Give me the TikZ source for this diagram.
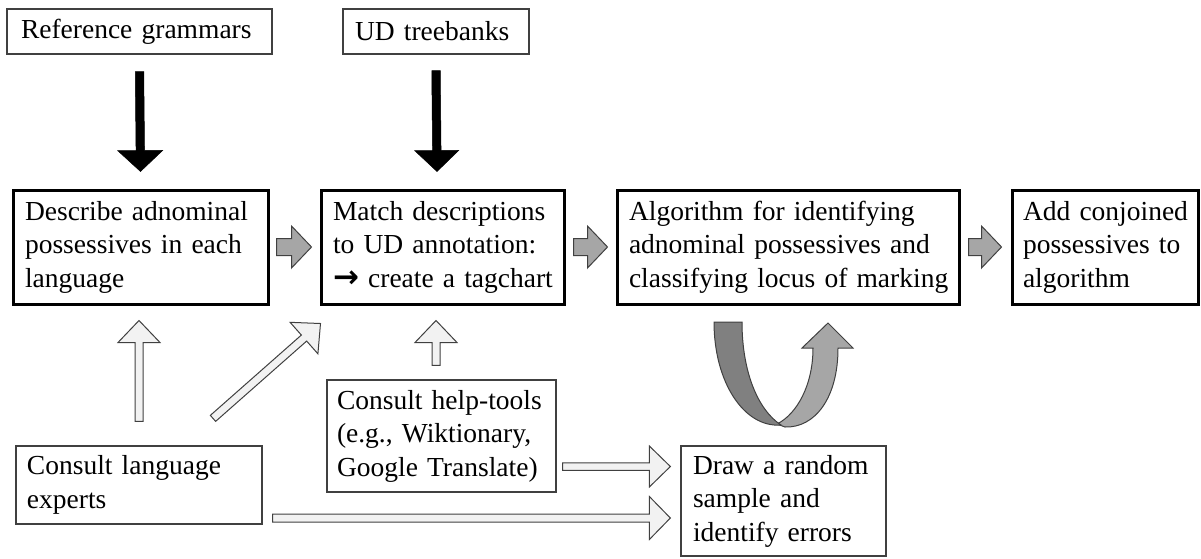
\documentclass[tikz,border=0pt]{standalone}
\usepackage{fontspec}
\setmainfont{Liberation Serif}
\newfontfamily\arrowfont{DejaVu Sans}
\usetikzlibrary{calc}

\definecolor{arrowgray}{HTML}{A6A6A6}
\definecolor{bandgray}{HTML}{808080}
\definecolor{palegray}{HTML}{F2F2F2}
\definecolor{edgegray}{HTML}{404040}

% block arrow: style, from, to, half shaft, half head, head length
\newcommand{\fatarrow}[6]{%
  \coordinate (fa-s) at (#2);
  \coordinate (fa-e) at (#3);
  \coordinate (fa-b) at ($(fa-e)!#6!(fa-s)$);
  \draw[#1] ($(fa-s)!#4!90:(fa-e)$) -- ($(fa-b)!#4!90:(fa-e)$) -- ($(fa-b)!#5!90:(fa-e)$)
    -- (fa-e) -- ($(fa-b)!#5!-90:(fa-e)$) -- ($(fa-b)!#4!-90:(fa-e)$) -- ($(fa-s)!#4!-90:(fa-e)$) -- cycle;}

\begin{document}
\begin{tikzpicture}[x=1pt, y=-1pt, font=\fontsize{27.5}{33.5}\selectfont,
    thinbox/.style={draw=edgegray, line width=1.3pt, align=left, inner ysep=0pt},
    thickbox/.style={draw=black, line width=3pt, align=left, inner ysep=0pt},
    blackarrow/.style={fill=black, draw=black, line width=0.5pt},
    grayarrow/.style={fill=arrowgray, draw=edgegray, line width=1pt},
    palearrow/.style={fill=palegray, draw=edgegray, line width=1pt}]
    \useasboundingbox (0,0) rectangle (1201,558);

    % sources
    \node[thinbox, text width=237pt, inner xsep=14pt, minimum height=45pt] (ref) at (139.5,31.5) {\mbox{Reference grammars}};
    \node[thinbox, text width=162pt, inner xsep=12pt, minimum height=45pt] (ud) at (436,31.5) {\mbox{UD treebanks}};

    % main steps
    \node[thickbox, text width=231pt, inner xsep=12pt, minimum height=114pt] (desc) at (140.5,247)
        {\mbox{Describe adnominal}\\\mbox{possessives in each}\\\mbox{language}};
    \node[thickbox, text width=219pt, inner xsep=12pt, minimum height=114pt] (match) at (442.5,247)
        {\mbox{Match descriptions}\\\mbox{to UD annotation:}\\\mbox{{\arrowfont\bfseries\fontsize{31}{33.5}\selectfont →}\ create a tagchart}};
    \node[thickbox, text width=318pt, inner xsep=12pt, minimum height=114pt] (algo) at (788,247)
        {\mbox{Algorithm for identifying}\\\mbox{adnominal possessives and}\\\mbox{classifying locus of marking}};
    \node[thickbox, text width=164pt, inner xsep=11pt, minimum height=114pt] (add) at (1105,247)
        {\mbox{Add conjoined}\\\mbox{possessives to}\\\mbox{algorithm}};

    % helpers
    \node[thinbox, text width=224pt, inner xsep=11pt, minimum height=78pt] (lang) at (139,485)
        {\mbox{Consult language}\\\mbox{experts}};
    \node[thinbox, text width=209pt, inner xsep=10pt, minimum height=112pt] (help) at (441.5,436)
        {\mbox{Consult help-tools}\\\mbox{(e.g., Wiktionary,}\\\mbox{Google Translate)}};
    \node[thinbox, text width=181pt, inner xsep=12pt, minimum height=110pt] (draw) at (783.5,501)
        {\mbox{Draw a random}\\\mbox{sample and}\\\mbox{identify errors}};

    \fatarrow{blackarrow}{[yshift=-17pt]ref.south}{[yshift=17pt]desc.north}{4.25pt}{22.5pt}{21pt}
    \fatarrow{blackarrow}{[yshift=-16pt]ud.south}{[xshift=-5.5pt,yshift=17pt]match.north}{4.25pt}{22pt}{21pt}

    \fatarrow{grayarrow}{[xshift=7pt]desc.east}{[xshift=-8pt]match.west}{8.5pt}{21pt}{20pt}
    \fatarrow{grayarrow}{[xshift=8pt]match.east}{[xshift=-8pt]algo.west}{8.5pt}{21pt}{20pt}
    \fatarrow{grayarrow}{[xshift=8pt]algo.east}{[xshift=-9pt]add.west}{8.5pt}{21pt}{20pt}

    \fatarrow{palearrow}{[yshift=24pt]lang.north}{[xshift=-1.5pt,yshift=-15pt]desc.south}{4pt}{21pt}{22pt}
    \fatarrow{palearrow}{[xshift=74pt,yshift=27pt]lang.north}{[xshift=1pt,yshift=-18pt]match.south west}{4pt}{21pt}{22pt}
    \fatarrow{palearrow}{[xshift=-5.5pt,yshift=14pt]help.north}{[xshift=-6.5pt,yshift=-15pt]match.south}{4pt}{21pt}{22pt}
    \fatarrow{palearrow}{[xshift=6pt,yshift=-30.5pt]help.east}{[xshift=-10pt,yshift=34.5pt]draw.west}{3.75pt}{20.5pt}{21pt}
    \fatarrow{palearrow}{[xshift=10pt,yshift=-33pt]lang.east}{[xshift=-10pt,yshift=-17pt]draw.west}{4pt}{21.5pt}{21pt}

    % u-turn below the algorithm
    \draw[fill=arrowgray, draw=edgegray, line width=1pt] (777,424) .. controls (797,414) and (813,385) .. (813,348)
        -- (802,348) -- (828,323) -- (853,348) -- (838,348) .. controls (838,398) and (815,428) .. (785,427) -- cycle;
    \draw[fill=bandgray, draw=edgegray, line width=1pt] (714,322) -- (742,322) .. controls (742,372) and (758,410) .. (781,425)
        .. controls (744,428) and (714,382) .. (714,322) -- cycle;
\end{tikzpicture}
\end{document}
